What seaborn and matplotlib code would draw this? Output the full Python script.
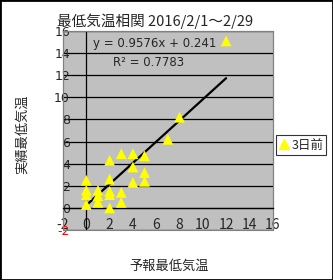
import matplotlib
matplotlib.use("Agg")
import matplotlib.pyplot as plt
from matplotlib.patches import Rectangle
from matplotlib.lines import Line2D
import seaborn as sns
import numpy as np

# ---- data ----
forecast = [0, 0, 0, 0, 1, 1, 1, 2, 2, 2, 2, 2, 3, 3, 3, 4, 4, 4, 5, 5, 5, 7, 8, 12]
actual = [2.5, 1.6, 1.2, 0.3, 1.6, 1.1, 0.5, 4.3, 2.6, 1.5, 1.2, 0.0,
          4.9, 1.4, 0.5, 4.9, 3.7, 2.3, 4.7, 3.2, 2.4, 6.2, 8.2, 15.1]
trend_slope = 0.9576
trend_intercept = 0.241
r_squared = 0.7783
series_label = "3日前"
title = "最低気温相関 2016/2/1～2/29"
x_label = "予報最低気温"
y_label = "実績最低気温"
ticks = [-2, 0, 2, 4, 6, 8, 10, 12, 14, 16]

sns.set_style("white")
plt.rcParams['font.family'] = ['Noto Sans CJK JP', 'DejaVu Sans']

W, H = 333, 280
fig = plt.figure(figsize=(W / 100, H / 100), dpi=100)
fig.patch.set_facecolor("white")
ax = fig.add_axes([63 / W, 1 - 230 / H, (272.7 - 63) / W, (230 - 31) / H])
ax.set_facecolor("#C0C0C0")

# trend line from the stated equation
tx = np.array([min(forecast), max(forecast)], dtype=float)
ty = trend_slope * tx + trend_intercept
sns.lineplot(x=tx, y=ty, color="black", lw=1.6, ax=ax, zorder=3)

sns.scatterplot(x=forecast, y=actual, marker="^", color="#FFFF00", s=60,
                edgecolor="none", ax=ax, zorder=4, legend=False)

ax.set_xlim(-2, 16)
ax.set_ylim(-2, 16)
ax.set_xticks(ticks)
ax.set_yticks(ticks)
ax.set_xticklabels([str(t) for t in ticks], fontsize=9, family='DejaVu Sans')
ax.set_yticklabels([str(t) for t in ticks], fontsize=9, family='DejaVu Sans')
ax.get_xticklabels()[0].set_color("red")
ax.get_yticklabels()[0].set_color("red")

ax.yaxis.grid(True, color="black", lw=0.9)
ax.xaxis.grid(False)
ax.set_axisbelow(True)

for s in ["top", "right", "left"]:
    ax.spines[s].set_color("#808080")
    ax.spines[s].set_linewidth(0.8)
ax.spines["bottom"].set_position(("data", 0))
ax.spines["bottom"].set_color("black")
ax.spines["bottom"].set_linewidth(0.9)
ax.add_patch(Rectangle((0, 0), 1, 1, transform=ax.transAxes, fill=False,
                       edgecolor="#808080", lw=0.8, zorder=1, clip_on=False))
ax.axvline(0, color="black", lw=0.9, zorder=2)

ax.tick_params(axis="y", length=0, pad=-5)
ax.tick_params(axis="x", length=3, direction="in", pad=7, color="black")

ax.set_xlabel("")
ax.set_ylabel("")

# equation texts
ax.text(0.143, 0.935, f"y = {trend_slope}x + {trend_intercept}", transform=ax.transAxes,
        fontsize=8.5, family='DejaVu Sans', va="center", ha="left")
ax.text(0.239, 0.844, f"R² = {r_squared}", transform=ax.transAxes,
        fontsize=8.5, family='DejaVu Sans', va="center", ha="left")

# titles
fig.text(155 / W, 1 - 21 / H, title, ha="center", va="center", fontsize=10.5)
fig.text(22 / W, 1 - 134 / H, y_label, ha="center", va="center", rotation=90, fontsize=9.5)
fig.text(169 / W, 1 - 266 / H, x_label, ha="center", va="center", fontsize=9.5)

# legend
handle = Line2D([], [], marker="^", color="#FFFF00", linestyle="none", markersize=7)
leg = fig.legend([handle], [series_label], loc="center",
                 bbox_to_anchor=(301 / W, 1 - 145 / H), frameon=True, fancybox=False,
                 fontsize=9, handlelength=0.8, handletextpad=0.2, borderpad=0.25,
                 borderaxespad=0)
leg.get_frame().set_edgecolor("black")
leg.get_frame().set_linewidth(0.8)

fig.patches.append(Rectangle((0, 0), 1, 1, transform=fig.transFigure, fill=False,
                             edgecolor="black", lw=2))

fig.savefig("out.png", dpi=100)
